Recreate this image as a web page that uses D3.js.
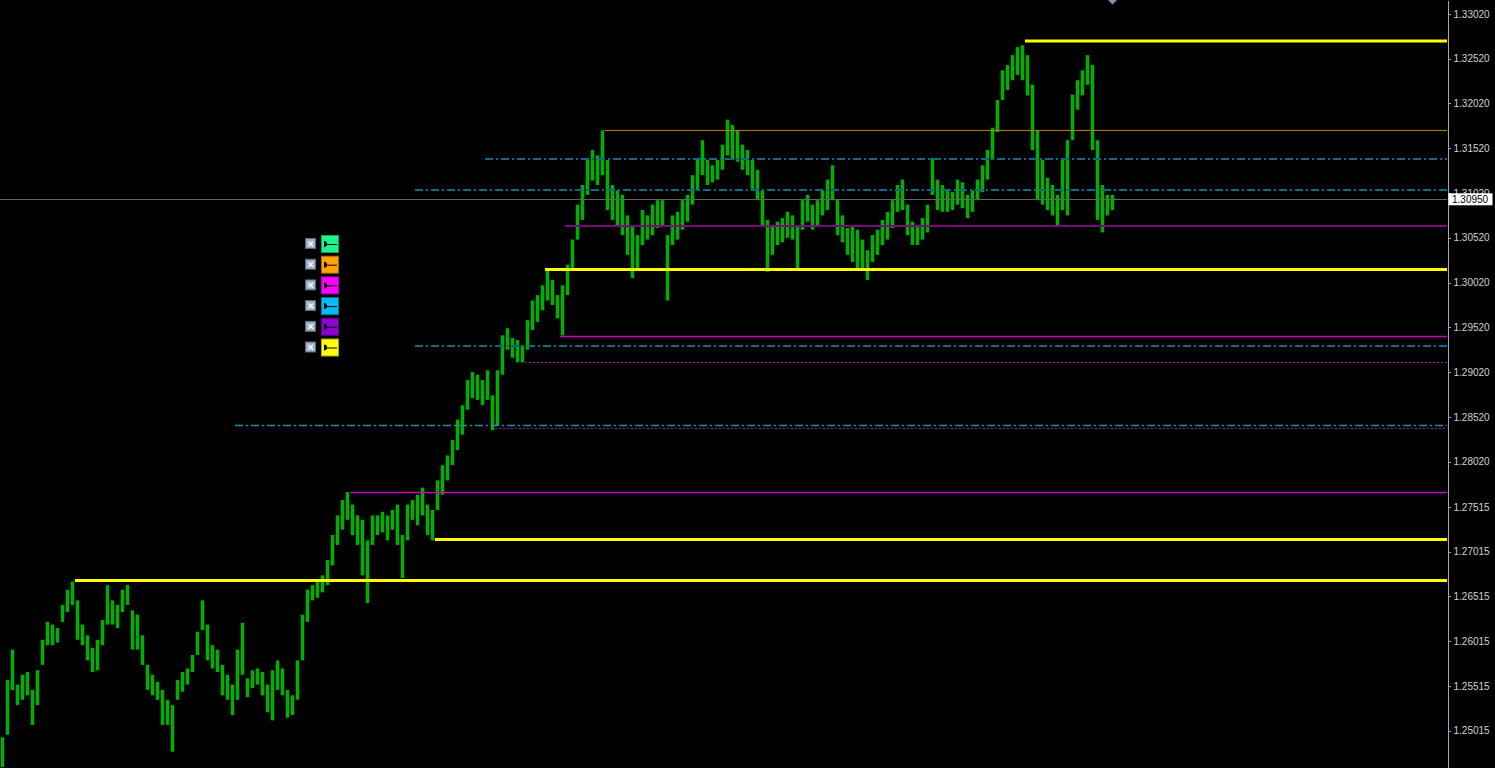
<!DOCTYPE html>
<meta charset="utf-8">
<style>

body { margin: 0; background: #000; overflow: hidden; }

svg { display: block; background: #000; }

.axis text {
    font: 10px "Liberation Sans", Arial, sans-serif;
    fill: #d2d2d2;
}

.axis path,
.axis line {
    fill: none;
    stroke: #a8a8a8;
    stroke-width: 1;
    shape-rendering: crispEdges;
}

</style>

<body>
<script src="https://cdn.jsdelivr.net/npm/d3@7"></script>
<script>

// price bars, one per slot (left to right)
var barHigh = [
    1.2494,1.2558,1.2592,1.2553,1.2564,1.2567,1.2547,1.2569,1.2603,1.2623,
    1.2620,1.2616,1.2642,1.2659,1.2668,1.2647,1.2620,1.2608,1.2594,1.2603,
    1.2625,1.2664,1.2647,1.2642,1.2659,1.2664,1.2636,1.2631,1.2608,1.2575,
    1.2564,1.2556,1.2547,1.2536,1.2530,1.2558,1.2567,1.2571,1.2586,1.2612,
    1.2647,1.2620,1.2597,1.2592,1.2575,1.2564,1.2553,1.2592,1.2622,1.2560,
    1.2569,1.2571,1.2567,1.2553,1.2569,1.2580,1.2571,1.2547,1.2541,1.2580,
    1.2631,1.2659,1.2664,1.2668,1.2675,1.2692,1.2720,1.2742,1.2759,1.2768,
    1.2754,1.2742,1.2737,1.2714,1.2742,1.2742,1.2746,1.2742,1.2748,1.2754,
    1.2720,1.2754,1.2759,1.2765,1.2773,1.2754,1.2748,1.2781,1.2798,1.2809,
    1.2826,1.2849,1.2865,1.2893,1.2902,1.2899,1.2893,1.2904,1.2876,1.2904,
    1.2943,1.2951,1.2940,1.2938,1.2932,1.2960,1.2982,1.2988,1.2999,1.3018,
    1.3005,1.2988,1.2999,1.3022,1.3050,1.3089,1.3111,1.3139,1.3150,1.3144,
    1.3172,1.3139,1.3111,1.3105,1.3100,1.3077,1.3066,1.3055,1.3083,1.3077,
    1.3089,1.3094,1.3094,1.3055,1.3077,1.3081,1.3094,1.3100,1.3122,1.3139,
    1.3161,1.3139,1.3133,1.3139,1.3156,1.3184,1.3178,1.3172,1.3156,1.3150,
    1.3139,1.3128,1.3105,1.3072,1.3066,1.3070,1.3074,1.3081,1.3077,1.3066,
    1.3094,1.3100,1.3089,1.3094,1.3105,1.3117,1.3133,1.3094,1.3077,1.3063,
    1.3066,1.3061,1.3050,1.3038,1.3055,1.3061,1.3072,1.3081,1.3094,1.3111,
    1.3117,1.3089,1.3070,1.3066,1.3074,1.3089,1.3141,1.3117,1.3111,1.3105,
    1.3103,1.3117,1.3114,1.3100,1.3105,1.3117,1.3133,1.3150,1.3175,1.3206,
    1.3239,1.3245,1.3256,1.3265,1.3267,1.3256,1.3223,1.3172,1.3139,1.3119,
    1.3111,1.3100,1.3139,1.3161,1.3212,1.3228,1.3239,1.3256,1.3245,1.3161,
    1.3111,1.3100,1.3100
];

var barLow = [
    1.2461,1.2497,1.2547,1.2530,1.2536,1.2541,1.2508,1.2530,1.2575,1.2597,
    1.2597,1.2600,1.2623,1.2634,1.2642,1.2603,1.2597,1.2580,1.2567,1.2569,
    1.2597,1.2620,1.2620,1.2616,1.2634,1.2642,1.2592,1.2592,1.2575,1.2547,
    1.2541,1.2536,1.2508,1.2508,1.2478,1.2536,1.2545,1.2553,1.2567,1.2586,
    1.2614,1.2580,1.2571,1.2567,1.2541,1.2536,1.2519,1.2536,1.2564,1.2539,
    1.2549,1.2553,1.2541,1.2522,1.2513,1.2547,1.2541,1.2516,1.2519,1.2536,
    1.2580,1.2623,1.2647,1.2650,1.2656,1.2664,1.2686,1.2709,1.2726,1.2737,
    1.2720,1.2709,1.2675,1.2644,1.2709,1.2720,1.2723,1.2714,1.2726,1.2709,
    1.2672,1.2714,1.2737,1.2731,1.2742,1.2720,1.2714,1.2748,1.2765,1.2781,
    1.2798,1.2815,1.2832,1.2860,1.2873,1.2871,1.2865,1.2871,1.2837,1.2843,
    1.2899,1.2927,1.2918,1.2913,1.2913,1.2927,1.2949,1.2958,1.2971,1.2982,
    1.2977,1.2962,1.2943,1.2988,1.3016,1.3050,1.3072,1.3100,1.3116,1.3111,
    1.3122,1.3083,1.3072,1.3066,1.3055,1.3033,1.3007,1.3016,1.3044,1.3050,
    1.3055,1.3063,1.3066,1.2982,1.3044,1.3050,1.3061,1.3070,1.3089,1.3105,
    1.3122,1.3111,1.3114,1.3117,1.3128,1.3144,1.3139,1.3137,1.3128,1.3122,
    1.3105,1.3094,1.3066,1.3014,1.3033,1.3044,1.3047,1.3052,1.3050,1.3018,
    1.3061,1.3070,1.3061,1.3066,1.3077,1.3083,1.3094,1.3055,1.3047,1.3033,
    1.3025,1.3018,1.3016,1.3005,1.3025,1.3033,1.3044,1.3050,1.3063,1.3081,
    1.3083,1.3055,1.3044,1.3044,1.3050,1.3058,1.3100,1.3083,1.3081,1.3081,
    1.3083,1.3089,1.3085,1.3074,1.3081,1.3094,1.3103,1.3117,1.3139,1.3170,
    1.3206,1.3217,1.3228,1.3234,1.3228,1.3211,1.3150,1.3094,1.3089,1.3083,
    1.3077,1.3064,1.3083,1.3077,1.3161,1.3195,1.3211,1.3223,1.3150,1.3072,
    1.3058,1.3077,1.3083
];

// horizontal levels: price, first bar, kind
var levelPrice = [1.32718, 1.31719, 1.31400, 1.31054, 1.30652, 1.30166, 1.29418,
                  1.29312, 1.29127, 1.28424, 1.28391, 1.27676, 1.27150, 1.26693];
var levelFrom  = [205, 121, 97, 83, 113, 109, 112, 83, 105, 47, 99, 70, 87, 15];
var levelKind  = ["yellow", "orange", "teal", "teal", "purple", "yellow", "magenta",
                  "teal", "dotted", "tealLight", "dotted", "magenta", "yellow", "yellow"];

var lastPrice = 1.30950;

// price scale labels
var tickLabels = ["1.33020", "1.32520", "1.32020", "1.31520", "1.31020", "1.30520",
                  "1.30020", "1.29520", "1.29020", "1.28520", "1.28020", "1.27515",
                  "1.27015", "1.26515", "1.26015", "1.25515", "1.25015"];

// object list panel colours
var legendColors = ["#1cf58c", "#ffa200", "#ff00ff", "#00bcf5", "#8c00d2", "#ffff00"];

// styles for each level kind
var levelStyle = {
    yellow:    {stroke: "#ffff00", width: 3,   dash: null},
    orange:    {stroke: "#c87a00", width: 1,   dash: null},
    teal:      {stroke: "#0b6a86", width: 2,   dash: "8,3,2,3"},
    tealLight: {stroke: "#1590b4", width: 1.5, dash: "8,3,2,3"},
    purple:    {stroke: "#7a0a7a", width: 2,   dash: null},
    magenta:   {stroke: "#c800c8", width: 1.5, dash: null},
    dotted:    {stroke: "#8a12b4", width: 1,   dash: "2,2"}
};

// Set the dimensions of the canvas / graph
var W = 1495, H = 768,
    plotRight = 1447;

var x = d3.scaleLinear().domain([0, barHigh.length - 1]).range([2.5, 1112.5]);
var y = d3.scaleLinear().domain([1.24598, 1.33176]).range([H, 0]);
var step = x(1) - x(0);

var svg = d3.select("body")
    .append("svg")
        .attr("width", W)
        .attr("height", H);

// bars
svg.append("g")
    .selectAll("line")
    .data(barHigh)
    .enter().append("line")
        .attr("x1", function(d, i) { return x(i); })
        .attr("x2", function(d, i) { return x(i); })
        .attr("y1", function(d) { return y(d); })
        .attr("y2", function(d, i) { return y(barLow[i]); })
        .attr("stroke", "#00b000")
        .attr("stroke-width", 3.5);

// current price line
svg.append("line")
    .attr("x1", 0).attr("x2", plotRight)
    .attr("y1", Math.round(y(lastPrice)) + 0.5)
    .attr("y2", Math.round(y(lastPrice)) + 0.5)
    .attr("stroke", "#646464")
    .attr("stroke-width", 1);

// levels
svg.append("g")
    .selectAll("line")
    .data(levelPrice)
    .enter().append("line")
        .attr("x1", function(d, i) { return x(levelFrom[i]) - step / 2; })
        .attr("x2", plotRight)
        .attr("y1", function(d) { return y(d); })
        .attr("y2", function(d) { return y(d); })
        .attr("stroke", function(d, i) { return levelStyle[levelKind[i]].stroke; })
        .attr("stroke-width", function(d, i) { return levelStyle[levelKind[i]].width; })
        .attr("stroke-dasharray", function(d, i) { return levelStyle[levelKind[i]].dash; });

// shift marker at the top
svg.append("path")
    .attr("d", "M1108,0 L1117,0 L1112.5,4.5 Z")
    .attr("fill", "#8494a6");

// object panel
var legend = svg.append("g")
    .selectAll("g")
    .data(legendColors)
    .enter().append("g")
        .attr("transform", function(d, i) { return "translate(305," + (235 + i * 20.7) + ")"; });

legend.append("rect")
    .attr("x", 0.5).attr("y", 3.5)
    .attr("width", 10).attr("height", 10)
    .attr("fill", "#9fb3c6")
    .attr("stroke", "#56687a");

legend.append("path")
    .attr("d", "M3.5,6.5 L8,11 M8,6.5 L3.5,11")
    .attr("stroke", "#f4f8fc")
    .attr("stroke-width", 1.5);

legend.append("rect")
    .attr("x", 16.5).attr("y", 0.5)
    .attr("width", 17).attr("height", 17)
    .attr("fill", function(d) { return d; })
    .attr("stroke", function(d) { return d3.color(d).darker(1.2); });

legend.append("path")
    .attr("d", "M19,6 A3,3 0 0,1 19,12 Z")
    .attr("fill", "#000");

legend.append("line")
    .attr("x1", 20).attr("x2", 32)
    .attr("y1", 9.5).attr("y2", 9.5)
    .attr("stroke", "#000")
    .attr("stroke-width", 1);

// Add the price axis
svg.append("g")
    .attr("class", "axis")
    .attr("transform", "translate(" + (plotRight + 0.5) + ",0)")
    .call(d3.axisRight(y)
        .tickValues(tickLabels.map(Number))
        .tickFormat(function(d, i) { return tickLabels[i]; })
        .tickSize(3)
        .tickSizeOuter(0)
        .tickPadding(3));

// current price label
svg.append("rect")
    .attr("x", plotRight + 1.5)
    .attr("y", y(lastPrice) - 6)
    .attr("width", 44)
    .attr("height", 12)
    .attr("fill", "#fff");

svg.append("text")
    .attr("x", plotRight + 5)
    .attr("y", y(lastPrice) + 4)
    .style("font", '10px "Liberation Sans", Arial, sans-serif')
    .attr("fill", "#000")
    .text(lastPrice.toFixed(5));

</script>
</body>
